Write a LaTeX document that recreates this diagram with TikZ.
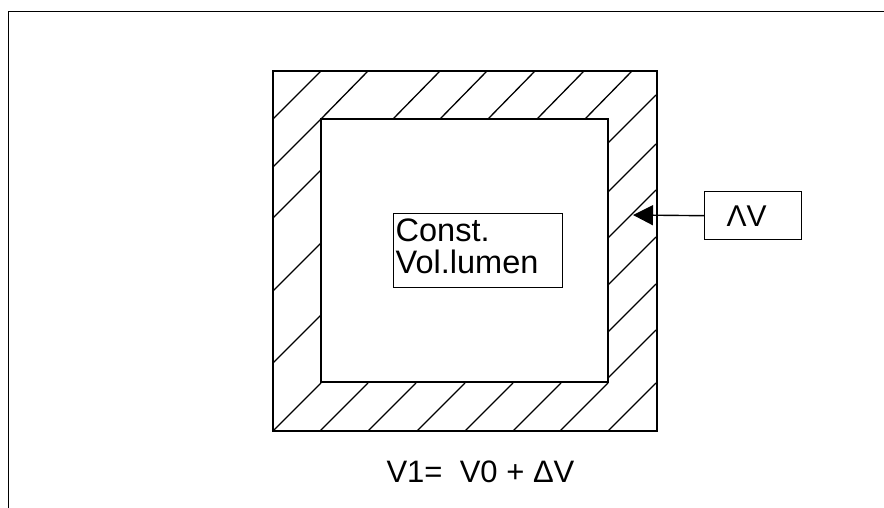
\documentclass[tikz,border=0pt]{standalone}
\usepackage{fontspec}
\setmainfont{Liberation Sans}
\usetikzlibrary{arrows.meta, positioning}
\tikzset{
    frame/.style={draw=black, line width=1.6pt},
    wall/.style={draw=black, line width=1.6pt},
    hatch/.style={draw=black, line width=1.3pt},
    textbox/.style={rectangle, draw=black, line width=1.4pt, align=left, font=\fontsize{31}{32}\selectfont},
    arrow/.style={-{Triangle[length=20pt, width=20pt]}, line width=1.4pt},
}

\begin{document}
\begin{tikzpicture}[x=1pt, y=-1pt, font=\fontsize{31}{32}\selectfont]
    \useasboundingbox (0,0) rectangle (884,508);

    % Page frame
    \draw[frame] (8.5,508) -- (8.5,11.5) -- (884,11.5);

    % Hatching of the wall
    \foreach \y in {119,167,218,291,363}
        \draw[hatch] (273,\y) -- ++(48,-48);
    \foreach \x in {321,393,440,488,537,585}
        \draw[hatch] (\x,119) -- ++(47,-48);
    \foreach \y in {143,192,238,285,332,378}
        \draw[hatch] (608,\y) -- ++(48,-48);
    \foreach \x in {273,320,368,417,465,513,560,608}
        \draw[hatch] (\x,431) -- ++(48,-48);

    % Wall outline
    \draw[wall] (273,71) rectangle (657,431);
    \draw[wall, fill=white] (321,119) rectangle (608,382);

    % Lumen
    \node[textbox, anchor=north west, minimum width=169pt, text width=165pt, inner xsep=2pt, inner ysep=0pt, text height=28pt, text depth=46pt, font=\fontsize{32.5}{32}\selectfont] (lumen) at (393,213) {Const.\\Vol.lumen};

    % Volume change
    \node[textbox, anchor=north west, minimum height=48pt, text width=53pt, inner xsep=22pt, font=\fontsize{30}{31}\selectfont] (dv) at (704,191) {ΛV};
    \coordinate (wallpoint) at (633,215);
    \draw[arrow] (dv.west) -- (wallpoint);

    % Formula
    \node[anchor=base] (formula) at (480.5,482) {V1=\ \ V0 + ΔV};
\end{tikzpicture}
\end{document}
